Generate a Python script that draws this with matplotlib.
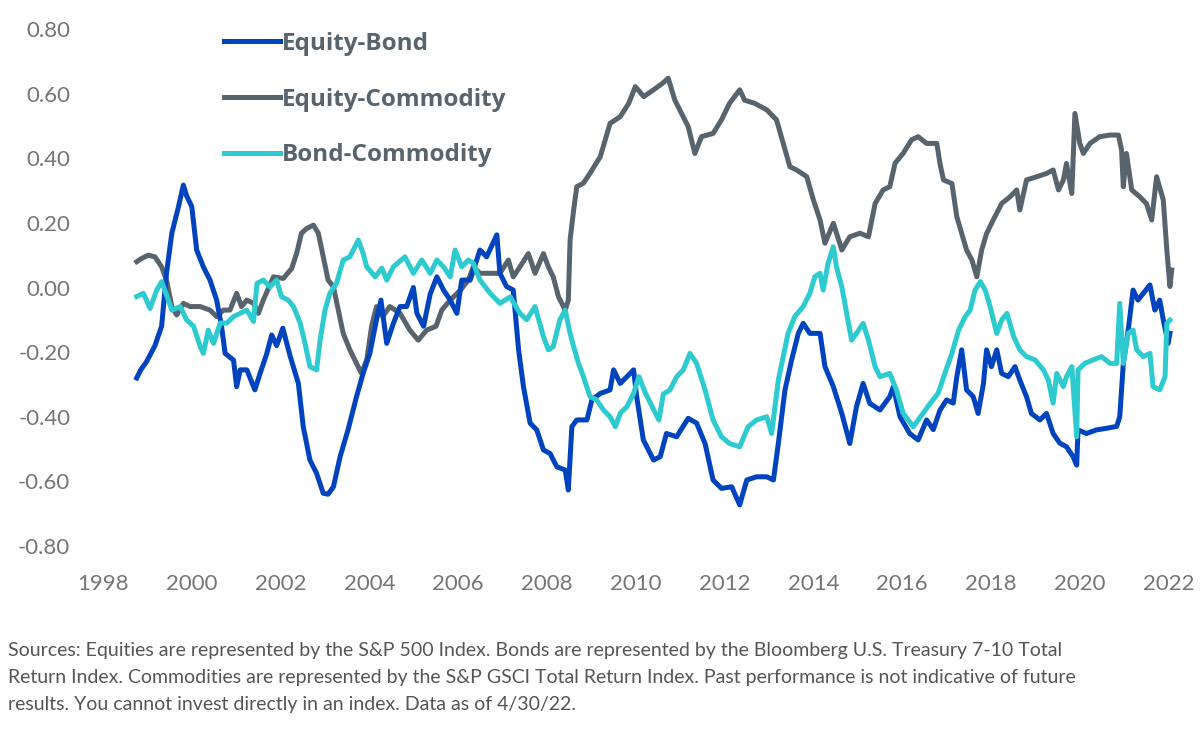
import matplotlib
matplotlib.use('Agg')
import matplotlib.pyplot as plt

# rolling correlations (decimal years)
years_eb = [1998.76, 1998.85, 1998.98, 1999.17, 1999.32, 1999.43, 1999.55, 1999.70, 1999.81, 1999.88,
            2000.00, 2000.11, 2000.26, 2000.41, 2000.56, 2000.67, 2000.75, 2000.94, 2001.01, 2001.09,
            2001.24, 2001.42, 2001.54, 2001.69, 2001.80, 2001.91, 2002.05, 2002.21, 2002.40, 2002.51,
            2002.66, 2002.81, 2002.96, 2003.07, 2003.19, 2003.34, 2003.52, 2003.71, 2003.86, 2004.01,
            2004.16, 2004.26, 2004.39, 2004.54, 2004.69, 2004.84, 2004.99, 2005.07, 2005.22, 2005.37,
            2005.52, 2005.67, 2005.82, 2005.97, 2006.08, 2006.27, 2006.49, 2006.64, 2006.87, 2006.94,
            2007.09, 2007.24, 2007.28, 2007.36, 2007.47, 2007.62, 2007.77, 2007.92, 2008.07, 2008.22,
            2008.41, 2008.48, 2008.56, 2008.67, 2008.90, 2009.01, 2009.20, 2009.42, 2009.50, 2009.65,
            2009.80, 2009.95, 2010.02, 2010.17, 2010.40, 2010.55, 2010.69, 2010.92, 2011.18, 2011.37,
            2011.56, 2011.74, 2011.93, 2012.16, 2012.34, 2012.50, 2012.72, 2012.95, 2013.10, 2013.21,
            2013.36, 2013.51, 2013.66, 2013.77, 2013.92, 2014.15, 2014.26, 2014.45, 2014.64, 2014.82,
            2014.97, 2015.12, 2015.27, 2015.50, 2015.72, 2015.80, 2015.95, 2016.17, 2016.36, 2016.55,
            2016.70, 2016.85, 2017.00, 2017.15, 2017.23, 2017.34, 2017.45, 2017.60, 2017.71, 2017.83,
            2017.90, 2018.01, 2018.13, 2018.24, 2018.39, 2018.54, 2018.65, 2018.80, 2018.91, 2019.10,
            2019.25, 2019.40, 2019.55, 2019.70, 2019.85, 2019.93, 2019.96, 2020.15, 2020.37, 2020.60,
            2020.83, 2020.90, 2020.98, 2021.09, 2021.20, 2021.31, 2021.43, 2021.58, 2021.69, 2021.80,
            2021.88, 2021.99, 2022.03]
eq_bond = [-0.28, -0.255, -0.23, -0.18, -0.12, 0.044, 0.168, 0.25, 0.317, 0.285,
           0.25, 0.116, 0.064, 0.023, -0.039, -0.12, -0.204, -0.225, -0.307, -0.255,
           -0.255, -0.317, -0.265, -0.204, -0.147, -0.18, -0.126, -0.21, -0.297, -0.431,
           -0.534, -0.575, -0.637, -0.64, -0.617, -0.524, -0.44, -0.338, -0.265, -0.204,
           -0.10, -0.039, -0.173, -0.111, -0.059, -0.059, 0.0, -0.08, -0.12, -0.02,
           0.033, -0.008, -0.039, -0.08, 0.023, 0.023, 0.116, 0.095, 0.163, 0.044,
           0.003, -0.008, -0.07, -0.193, -0.307, -0.42, -0.441, -0.503, -0.514, -0.555,
           -0.565, -0.627, -0.431, -0.41, -0.41, -0.348, -0.328, -0.317, -0.255, -0.297,
           -0.276, -0.255, -0.338, -0.472, -0.534, -0.524, -0.452, -0.462, -0.405, -0.42,
           -0.483, -0.596, -0.622, -0.617, -0.673, -0.596, -0.586, -0.586, -0.596, -0.483,
           -0.317, -0.224, -0.142, -0.111, -0.142, -0.142, -0.245, -0.307, -0.39, -0.483,
           -0.369, -0.297, -0.359, -0.379, -0.338, -0.307, -0.40, -0.452, -0.472, -0.41,
           -0.44, -0.38, -0.348, -0.358, -0.276, -0.193, -0.317, -0.338, -0.39, -0.297,
           -0.193, -0.245, -0.193, -0.266, -0.276, -0.245, -0.287, -0.338, -0.39, -0.41,
           -0.39, -0.452, -0.482, -0.493, -0.524, -0.55, -0.441, -0.452, -0.441, -0.436,
           -0.43, -0.40, -0.235, -0.132, -0.008, -0.039, -0.018, 0.008, -0.07, -0.039,
           -0.10, -0.173, -0.142]

years_ec = [1998.76, 1998.87, 1999.02, 1999.17, 1999.32, 1999.43, 1999.55, 1999.66, 1999.81, 1999.96,
            2000.19, 2000.41, 2000.56, 2000.71, 2000.86, 2001.01, 2001.12, 2001.24, 2001.39, 2001.50,
            2001.61, 2001.84, 2002.06, 2002.25, 2002.36, 2002.47, 2002.59, 2002.74, 2002.85, 2002.96,
            2003.07, 2003.19, 2003.30, 2003.41, 2003.56, 2003.71, 2003.82, 2003.94, 2004.05, 2004.16,
            2004.30, 2004.46, 2004.69, 2004.91, 2005.10, 2005.29, 2005.50, 2005.63, 2005.82, 2006.05,
            2006.23, 2006.34, 2006.49, 2006.72, 2006.94, 2007.13, 2007.24, 2007.39, 2007.58, 2007.73,
            2007.92, 2008.03, 2008.14, 2008.26, 2008.41, 2008.48, 2008.52, 2008.60, 2008.67, 2008.82,
            2008.97, 2009.20, 2009.42, 2009.65, 2009.84, 2009.99, 2010.18, 2010.40, 2010.60, 2010.73,
            2010.88, 2011.03, 2011.18, 2011.33, 2011.48, 2011.74, 2011.93, 2012.11, 2012.34, 2012.45,
            2012.68, 2012.95, 2013.17, 2013.32, 2013.47, 2013.62, 2013.85, 2014.00, 2014.15, 2014.26,
            2014.45, 2014.64, 2014.82, 2015.05, 2015.24, 2015.39, 2015.57, 2015.72, 2015.84, 2016.02,
            2016.21, 2016.36, 2016.55, 2016.78, 2016.85, 2016.93, 2017.12, 2017.23, 2017.34, 2017.45,
            2017.57, 2017.68, 2017.79, 2017.90, 2018.05, 2018.24, 2018.43, 2018.58, 2018.65, 2018.80,
            2019.03, 2019.25, 2019.40, 2019.52, 2019.63, 2019.70, 2019.82, 2019.89, 2020.00, 2020.08,
            2020.23, 2020.45, 2020.68, 2020.87, 2020.94, 2020.98, 2021.05, 2021.17, 2021.35, 2021.50,
            2021.62, 2021.73, 2021.88, 2021.96, 2022.03, 2022.07]
eq_comm = [0.08, 0.09, 0.10, 0.095, 0.064, 0.023, -0.059, -0.085, -0.049, -0.059,
           -0.059, -0.07, -0.09, -0.07, -0.07, -0.018, -0.059, -0.039, -0.049, -0.08,
           -0.039, 0.033, 0.028, 0.059, 0.105, 0.168, 0.183, 0.193, 0.168, 0.095,
           0.023, 0.002, -0.07, -0.142, -0.193, -0.235, -0.266, -0.224, -0.12, -0.059,
           -0.09, -0.059, -0.08, -0.132, -0.163, -0.132, -0.12, -0.07, -0.039, -0.008,
           0.023, 0.064, 0.044, 0.044, 0.044, 0.085, 0.033, 0.064, 0.105, 0.044,
           0.105, 0.064, 0.033, -0.029, -0.07, -0.039, 0.147, 0.24, 0.312, 0.323,
           0.354, 0.405, 0.508, 0.529, 0.57, 0.622, 0.591, 0.612, 0.632, 0.648,
           0.58, 0.539, 0.498, 0.415, 0.467, 0.477, 0.519, 0.57, 0.612, 0.58,
           0.57, 0.55, 0.519, 0.446, 0.374, 0.364, 0.343, 0.271, 0.209, 0.137,
           0.199, 0.116, 0.157, 0.168, 0.157, 0.26, 0.302, 0.312, 0.385, 0.415,
           0.457, 0.467, 0.446, 0.446, 0.384, 0.333, 0.322, 0.219, 0.167, 0.116,
           0.085, 0.033, 0.116, 0.167, 0.209, 0.26, 0.281, 0.302, 0.24, 0.333,
           0.343, 0.353, 0.364, 0.302, 0.333, 0.384, 0.291, 0.539, 0.446, 0.415,
           0.446, 0.467, 0.472, 0.472, 0.426, 0.312, 0.415, 0.302, 0.281, 0.26,
           0.209, 0.343, 0.271, 0.116, 0.003, 0.054]

years_bc = [1998.76, 1998.91, 1999.06, 1999.21, 1999.32, 1999.43, 1999.55, 1999.74, 1999.88, 2000.04,
            2000.19, 2000.26, 2000.37, 2000.49, 2000.64, 2000.79, 2000.94, 2001.09, 2001.24, 2001.39,
            2001.47, 2001.61, 2001.76, 2001.91, 2002.02, 2002.17, 2002.29, 2002.44, 2002.55, 2002.66,
            2002.81, 2002.89, 2003.00, 2003.11, 2003.26, 2003.41, 2003.56, 2003.75, 2003.86, 2003.94,
            2004.13, 2004.28, 2004.39, 2004.54, 2004.80, 2004.99, 2005.18, 2005.37, 2005.52, 2005.67,
            2005.82, 2005.93, 2006.08, 2006.23, 2006.34, 2006.49, 2006.72, 2006.94, 2007.17, 2007.39,
            2007.54, 2007.73, 2007.92, 2008.03, 2008.14, 2008.29, 2008.41, 2008.52, 2008.60, 2008.71,
            2008.82, 2008.97, 2009.12, 2009.27, 2009.42, 2009.54, 2009.65, 2009.80, 2009.95, 2010.07,
            2010.22, 2010.37, 2010.52, 2010.62, 2010.77, 2010.92, 2011.07, 2011.22, 2011.37, 2011.56,
            2011.74, 2011.93, 2012.11, 2012.34, 2012.53, 2012.72, 2012.95, 2013.06, 2013.21, 2013.32,
            2013.43, 2013.58, 2013.77, 2013.92, 2014.03, 2014.15, 2014.22, 2014.33, 2014.45, 2014.52,
            2014.64, 2014.75, 2014.86, 2014.97, 2015.12, 2015.24, 2015.39, 2015.50, 2015.72, 2015.87,
            2016.02, 2016.25, 2016.47, 2016.63, 2016.81, 2016.96, 2017.12, 2017.27, 2017.42, 2017.53,
            2017.64, 2017.76, 2017.87, 2017.98, 2018.13, 2018.24, 2018.36, 2018.51, 2018.65, 2018.80,
            2018.99, 2019.18, 2019.29, 2019.40, 2019.48, 2019.63, 2019.70, 2019.82, 2019.93, 2019.96,
            2020.11, 2020.30, 2020.49, 2020.68, 2020.83, 2020.90, 2020.98, 2021.09, 2021.20, 2021.28,
            2021.43, 2021.58, 2021.65, 2021.80, 2021.92, 2021.96, 2022.03]
bond_comm = [-0.028, -0.018, -0.065, -0.008, 0.018, -0.023, -0.07, -0.059, -0.10, -0.12,
             -0.183, -0.204, -0.132, -0.173, -0.11, -0.11, -0.09, -0.08, -0.07, -0.105,
             0.013, 0.023, 0.002, 0.023, -0.028, -0.039, -0.059, -0.11, -0.173, -0.245,
             -0.255, -0.163, -0.07, -0.018, 0.013, 0.085, 0.095, 0.147, 0.105, 0.064,
             0.033, 0.06, 0.023, 0.064, 0.095, 0.044, 0.085, 0.044, 0.085, 0.064,
             0.033, 0.116, 0.064, 0.085, 0.075, 0.023, -0.018, -0.049, -0.029, -0.08,
             -0.10, -0.059, -0.152, -0.193, -0.183, -0.10, -0.07, -0.142, -0.183, -0.235,
             -0.276, -0.338, -0.348, -0.379, -0.40, -0.431, -0.389, -0.369, -0.328, -0.276,
             -0.328, -0.369, -0.41, -0.33, -0.317, -0.276, -0.255, -0.204, -0.235, -0.317,
             -0.41, -0.462, -0.483, -0.493, -0.431, -0.41, -0.40, -0.452, -0.286, -0.214,
             -0.142, -0.09, -0.059, -0.018, 0.033, 0.044, -0.008, 0.075, 0.126, 0.064,
             0.002, -0.08, -0.163, -0.142, -0.111, -0.163, -0.245, -0.276, -0.266, -0.317,
             -0.389, -0.431, -0.389, -0.359, -0.327, -0.266, -0.204, -0.132, -0.09, -0.07,
             -0.008, 0.018, -0.008, -0.059, -0.142, -0.101, -0.08, -0.152, -0.193, -0.214,
             -0.224, -0.255, -0.286, -0.358, -0.266, -0.307, -0.276, -0.245, -0.462, -0.255,
             -0.235, -0.224, -0.214, -0.235, -0.235, -0.049, -0.235, -0.142, -0.132, -0.193,
             -0.214, -0.204, -0.307, -0.317, -0.276, -0.111, -0.101]

x_ticks = list(range(1998, 2023, 2))
y_ticks = [0.8, 0.6, 0.4, 0.2, 0.0, -0.2, -0.4, -0.6, -0.8]
y_labels = ['0.80', '0.60', '0.40', '0.20', '0.00', '-0.20', '-0.40', '-0.60', '-0.80']

note = ("Sources: Equities are represented by the S&P 500 Index. Bonds are represented by the Bloomberg U.S. Treasury 7-10 Total\n"
        "Return Index. Commodities are represented by the S&P GSCI Total Return Index. Past performance is not indicative of future\n"
        "results. You cannot invest directly in an index. Data as of 4/30/22.")

BLUE = '#0043BE'
GRAY = '#58646D'
CYAN = '#2DCAD0'
TXT = '#58646D'
TICK = '#757575'

W, H = 1200, 734
fig = plt.figure(figsize=(W / 100, H / 100), dpi=100)
ax = fig.add_axes([80 / W, 1 - 560 / H, 1100 / W, 540 / H])

l2, = ax.plot(years_ec, eq_comm, color=GRAY, lw=3.6, solid_joinstyle='round')
l1, = ax.plot(years_eb, eq_bond, color=BLUE, lw=3.6, solid_joinstyle='round')
l3, = ax.plot(years_bc, bond_comm, color=CYAN, lw=3.6, solid_joinstyle='round')

ax.set_xlim(1998 + (80 - 103) / 44.4, 1998 + (1180 - 103) / 44.4)
ax.set_ylim((287.5 - 560) / 323, (287.5 - 20) / 323)

ax.set_xticks(x_ticks)
ax.set_xticklabels([str(t) for t in x_ticks])
ax.set_yticks(y_ticks)
ax.set_yticklabels(y_labels)
ax.tick_params(length=0, labelsize=16, labelcolor=TICK)
ax.tick_params(axis='y', pad=7)
ax.tick_params(axis='x', pad=10)
for lab in ax.get_xticklabels() + ax.get_yticklabels():
    lab.set_family('Lato')
for s in ax.spines.values():
    s.set_visible(False)

ax.legend([l1, l2, l3], ['Equity-Bond', 'Equity-Commodity', 'Bond-Commodity'],
          loc='upper left', bbox_to_anchor=(224 / W, 1 - 32 / H), bbox_transform=fig.transFigure,
          frameon=False, borderpad=0, borderaxespad=0, handlelength=2.3, handletextpad=0.1,
          labelspacing=1.3, labelcolor=TXT,
          prop=dict(family='Open Sans', weight='bold', size=17.5))

fig.text(8 / W, 1 - 642 / H, note, ha='left', va='top', family='Lato', size=14,
         color='#555555', linespacing=1.7)

fig.savefig('out.png', dpi=100)
